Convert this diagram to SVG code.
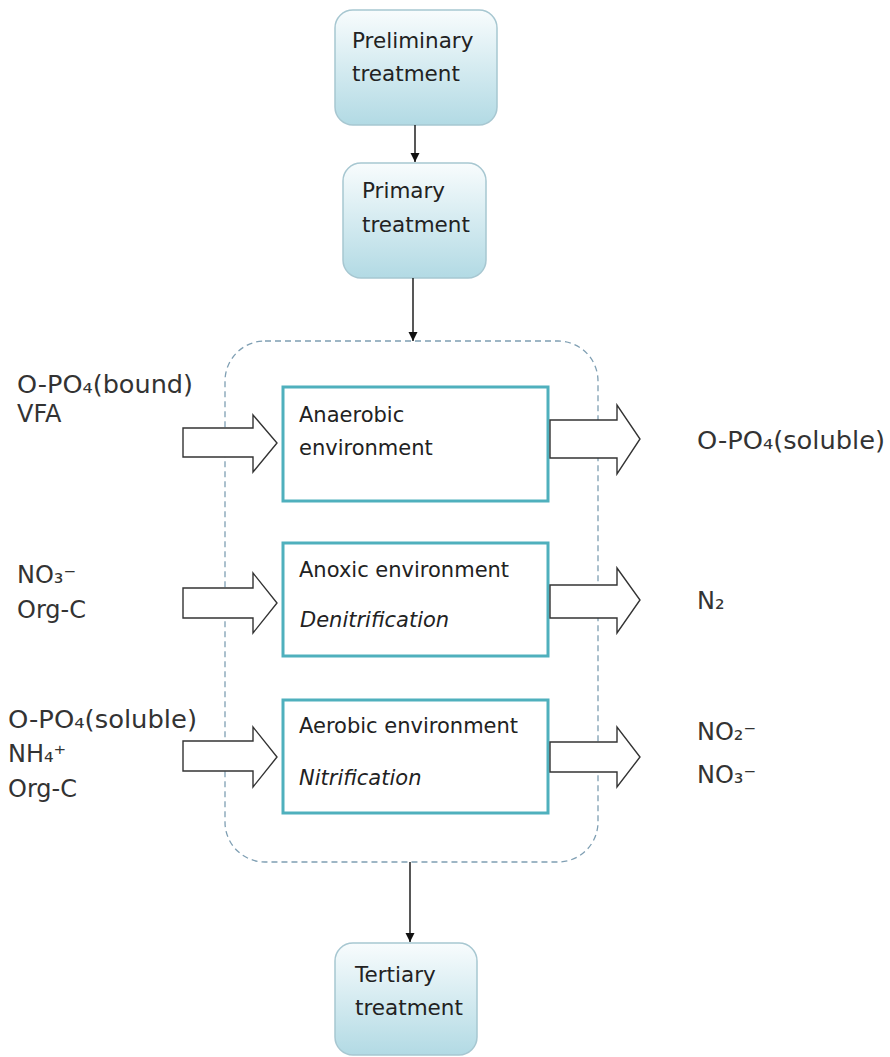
<svg xmlns="http://www.w3.org/2000/svg" width="890" height="1057" viewBox="0 0 890 1057">
  <style>
    .node { fill: url(#ng); stroke: #a7c7d1; stroke-width: 1.5; }
    .env { fill: #ffffff; stroke: #4fb0bd; stroke-width: 3; }
    .cont { fill: none; stroke: #7f9fb3; stroke-width: 1.3; stroke-dasharray: 6 4; }
    .nt { font-family: "DejaVu Sans", "Liberation Sans", sans-serif; font-size: 21.5px; fill: #222; }
    .et { font-family: "DejaVu Sans", "Liberation Sans", sans-serif; font-size: 21px; fill: #222; }
    .it { font-style: italic; }
    .lbl { font-family: "DejaVu Sans", "Liberation Sans", sans-serif; font-size: 24px; fill: #333; }
    .conn { stroke: #111; stroke-width: 1.4; fill: none; }
    .blk { fill: #ffffff; stroke: #333; stroke-width: 1.4; stroke-linejoin: miter; }
  </style>
  <defs>
    <linearGradient id="ng" x1="0" y1="0" x2="0" y2="1">
      <stop offset="0" stop-color="#f8fcfd"/>
      <stop offset="1" stop-color="#b2dae4"/>
    </linearGradient>
    <marker id="ah" viewBox="0 0 10 10" refX="10" refY="5" markerWidth="9" markerHeight="11" markerUnits="userSpaceOnUse" orient="auto">
      <path d="M0,0 L10,5 L0,10 z" fill="#111"/>
    </marker>
  </defs>

  <g id="container">
    <rect class="cont" x="225" y="341" width="373" height="521" rx="40" ry="40"/>
  </g>

  <g id="preliminary">
    <rect class="node" x="335" y="10" width="162" height="115" rx="18" ry="18"/>
    <text class="nt" x="352" y="48">Preliminary</text>
    <text class="nt" x="352" y="81">treatment</text>
  </g>
  <g id="primary">
    <rect class="node" x="343" y="163" width="143" height="115" rx="18" ry="18"/>
    <text class="nt" x="362" y="198">Primary</text>
    <text class="nt" x="362" y="232">treatment</text>
  </g>
  <g id="tertiary">
    <rect class="node" x="335" y="943" width="142" height="112" rx="18" ry="18"/>
    <text class="nt" x="355" y="982">Tertiary</text>
    <text class="nt" x="355" y="1015">treatment</text>
  </g>

  <g id="anaerobic">
    <rect class="env" x="283" y="387" width="265" height="114"/>
    <text class="et" x="299" y="422">Anaerobic</text>
    <text class="et" x="299" y="455">environment</text>
  </g>
  <g id="anoxic">
    <rect class="env" x="283" y="543" width="265" height="113"/>
    <text class="et" x="299" y="577">Anoxic environment</text>
    <text class="et it" x="300" y="627">Denitrification</text>
  </g>
  <g id="aerobic">
    <rect class="env" x="283" y="700" width="265" height="113"/>
    <text class="et" x="299" y="733">Aerobic environment</text>
    <text class="et it" x="299" y="785">Nitrification</text>
  </g>

  <g id="labels">
    <text class="lbl" x="17" y="393" textLength="176" lengthAdjust="spacingAndGlyphs">O-PO₄(bound)</text>
    <text class="lbl" x="17" y="422">VFA</text>
    <text class="lbl" x="697" y="449" textLength="188" lengthAdjust="spacingAndGlyphs">O-PO₄(soluble)</text>
    <text class="lbl" x="17" y="583">NO₃⁻</text>
    <text class="lbl" x="17" y="618">Org-C</text>
    <text class="lbl" x="697" y="609">N₂</text>
    <text class="lbl" x="8" y="728" textLength="189" lengthAdjust="spacingAndGlyphs">O-PO₄(soluble)</text>
    <text class="lbl" x="8" y="762">NH₄⁺</text>
    <text class="lbl" x="8" y="797">Org-C</text>
    <text class="lbl" x="697" y="740">NO₂⁻</text>
    <text class="lbl" x="697" y="783">NO₃⁻</text>
  </g>

  <g id="connectors">
    <line class="conn" x1="415" y1="125" x2="415" y2="162" marker-end="url(#ah)"/>
    <line class="conn" x1="413" y1="278" x2="413" y2="341" marker-end="url(#ah)"/>
    <line class="conn" x1="410" y1="862" x2="410" y2="942" marker-end="url(#ah)"/>

    <polygon class="blk" points="183,428 253,428 253,415 277,443 253,472 253,457 183,457"/>
    <polygon class="blk" points="183,588 253,588 253,573 277,603 253,633 253,618 183,618"/>
    <polygon class="blk" points="183,741 253,741 253,727 277,757 253,787 253,771 183,771"/>

    <polygon class="blk" points="550,420 617,420 617,405 640,439 617,474 617,458 550,458"/>
    <polygon class="blk" points="550,585 617,585 617,568 640,600 617,633 617,618 550,618"/>
    <polygon class="blk" points="550,742 617,742 617,727 640,757 617,787 617,772 550,772"/>
  </g>
</svg>
